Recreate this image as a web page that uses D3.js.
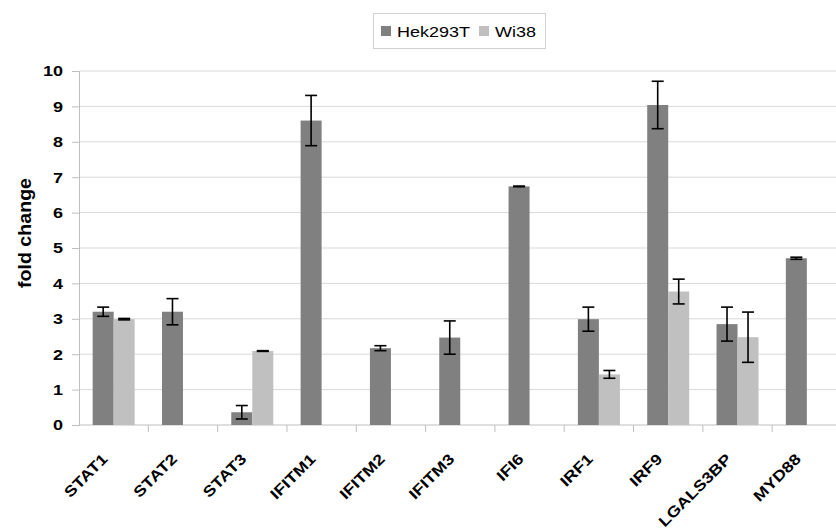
<!DOCTYPE html>
<html>
<head>
<meta charset="utf-8">
<script src="https://cdn.jsdelivr.net/npm/d3@7"></script>
<style>
  html, body { margin: 0; padding: 0; background: #fff; }
  svg { display: block; font-family: "Liberation Sans", Arial, sans-serif; }
</style>
</head>
<body>
<svg id="chart" width="836" height="531"></svg>
<script>
// Gene expression fold change in two cell lines
const genes = ["STAT1", "STAT2", "STAT3", "IFITM1", "IFITM2", "IFITM3", "IFI6", "IRF1", "IRF9", "LGALS3BP", "MYD88"];
const seriesNames = ["Hek293T", "Wi38"];
const hekValues = [3.20, 3.20, 0.36, 8.60, 2.17, 2.47, 6.74, 2.99, 9.04, 2.85, 4.71];
const hekErrors = [0.13, 0.37, 0.19, 0.71, 0.07, 0.47, 0.01, 0.34, 0.67, 0.48, 0.03];
const wiValues = [2.99, null, 2.09, null, null, null, null, 1.43, 3.77, 2.48, null];
const wiErrors = [0.02, null, 0.01, null, null, null, null, 0.11, 0.35, 0.71, null];
const yTicks = [0, 1, 2, 3, 4, 5, 6, 7, 8, 9, 10];
const seriesColors = ["#808080", "#c0c0c0"];

const svg = d3.select("#chart");
const plotLeft = 79, plotRight = 841.5, plotTop = 71, plotBottom = 425;
const stretch = 1.2; // horizontal widening of the label glyphs

const x = d3.scaleBand().domain(genes).range([plotLeft, plotRight]).paddingInner(0).paddingOuter(0);
const xs = d3.scaleBand().domain(seriesNames).range([0, x.bandwidth()]).paddingInner(0).paddingOuter(0.65);
const y = d3.scaleLinear().domain([0, 10]).range([plotBottom, plotTop]);

// Horizontal gridlines
svg.append("g").selectAll("line").data(yTicks.filter(d => d > 0)).join("line")
  .attr("x1", plotLeft).attr("x2", 836)
  .attr("y1", d => y(d)).attr("y2", d => y(d))
  .attr("stroke", "#d9d9d9").attr("stroke-width", 1);

// Y axis
const yAxis = svg.append("g").attr("transform", `translate(${plotLeft},0)`)
  .call(d3.axisLeft(y).tickValues(yTicks).tickSize(7).tickPadding(9).tickFormat(d3.format("d")));
yAxis.select(".domain").attr("stroke", "#bfbfbf");
yAxis.selectAll(".tick line").attr("stroke", "#bfbfbf");
yAxis.selectAll(".tick text")
  .attr("fill", "#000").attr("font-size", 15).attr("font-weight", "bold")
  .attr("font-family", "Liberation Sans, Arial, sans-serif")
  .attr("x", -16 / stretch)
  .attr("transform", `scale(${stretch},1)`);

// X axis with category separators
const boundaries = d3.range(genes.length + 1).map(i => plotLeft + i * x.bandwidth());
svg.append("line").attr("x1", plotLeft).attr("x2", 836).attr("y1", plotBottom).attr("y2", plotBottom)
  .attr("stroke", "#bfbfbf");
svg.append("g").selectAll("line").data(boundaries.slice(1)).join("line")
  .attr("x1", d => d).attr("x2", d => d).attr("y1", plotBottom).attr("y2", plotBottom + 7)
  .attr("stroke", "#bfbfbf");

// Bars
const rows = [];
genes.forEach((g, i) => {
  rows.push({ gene: g, s: seriesNames[0], v: hekValues[i], e: hekErrors[i], c: seriesColors[0] });
  if (wiValues[i] != null) rows.push({ gene: g, s: seriesNames[1], v: wiValues[i], e: wiErrors[i], c: seriesColors[1] });
});

svg.append("g").selectAll("rect").data(rows).join("rect")
  .attr("x", d => x(d.gene) + xs(d.s))
  .attr("width", xs.bandwidth())
  .attr("y", d => y(d.v))
  .attr("height", d => y(0) - y(d.v))
  .attr("fill", d => d.c);

// Error bars
const cap = 6;
const eb = svg.append("g").attr("stroke", "#000").attr("stroke-width", 1.6);
rows.forEach(d => {
  const cx = x(d.gene) + xs(d.s) + xs.bandwidth() / 2;
  const y1 = y(d.v + d.e), y2 = y(d.v - d.e);
  eb.append("line").attr("x1", cx).attr("x2", cx).attr("y1", y1).attr("y2", y2);
  eb.append("line").attr("x1", cx - cap).attr("x2", cx + cap).attr("y1", y1).attr("y2", y1);
  eb.append("line").attr("x1", cx - cap).attr("x2", cx + cap).attr("y1", y2).attr("y2", y2);
});

// Category labels, rotated 45 degrees and ending just left of the band centre
svg.append("g").selectAll("text").data(genes).join("text")
  .attr("transform", d => `translate(${x(d) + x.bandwidth() / 2 - 5},${plotBottom + 35}) rotate(-45) scale(${stretch},1)`)
  .attr("text-anchor", "end")
  .attr("font-size", 15).attr("font-weight", "bold")
  .text(d => d);

// Y axis title
svg.append("text")
  .attr("transform", `translate(31,${(plotTop + plotBottom) / 2 - 15}) rotate(-90) scale(1.09,1)`)
  .attr("text-anchor", "middle")
  .attr("font-size", 18).attr("font-weight", "bold")
  .text("fold change");

// Legend
const lg = svg.append("g");
lg.append("rect").attr("x", 373.5).attr("y", 13.5).attr("width", 172).attr("height", 35)
  .attr("fill", "#fff").attr("stroke", "#d0d0d0");
const legendItems = [{ name: seriesNames[0], c: seriesColors[0], x: 381 }, { name: seriesNames[1], c: seriesColors[1], x: 479 }];
legendItems.forEach(it => {
  lg.append("rect").attr("x", it.x).attr("y", 26).attr("width", 10).attr("height", 10).attr("fill", it.c);
  lg.append("text").attr("transform", `translate(${it.x + 16},37) scale(${stretch},1)`)
    .attr("font-size", 15).text(it.name);
});
</script>
</body>
</html>
